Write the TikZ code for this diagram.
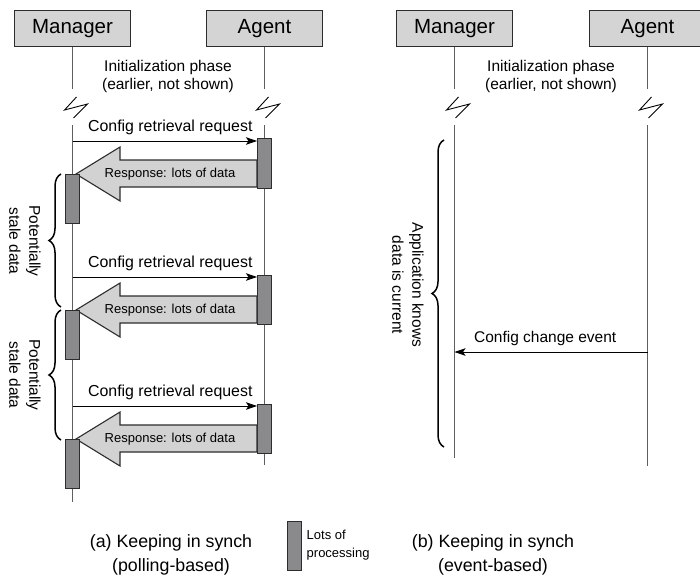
\documentclass[tikz,border=0pt]{standalone}
\usepackage{fontspec}
\setmainfont{Liberation Sans}
\usepackage{tikz}
\usetikzlibrary{arrows.meta,positioning,decorations.pathreplacing}
\definecolor{hdrgray}{RGB}{212,212,212}
\definecolor{respgray}{RGB}{210,210,210}
\definecolor{procgray}{RGB}{138,138,140}
\definecolor{lifegray}{RGB}{95,95,95}
\definecolor{edgegray}{RGB}{45,45,45}

\begin{document}
\begin{tikzpicture}[x=1pt, y=-1pt,
    hdr/.style={draw=edgegray, fill=hdrgray, line width=1.1pt, minimum width=116pt,
      minimum height=36pt, inner sep=0pt, font=\fontsize{20.5}{22}\selectfont},
    proc/.style={draw=edgegray, fill=procgray, line width=1pt, minimum width=14pt,
      minimum height=49pt, inner sep=0pt},
    life/.style={lifegray, line width=1.1pt},
    msg/.style={-{Stealth[length=11pt,width=7.5pt,inset=2.5pt]}, line width=0.8pt},
    resp/.style={draw=edgegray, fill=respgray, line width=1.1pt},
    brc/.style={decorate, decoration={brace, amplitude=12pt}, line width=1.5pt},
    lbl/.style={align=center, font=\fontsize{15.5}{18}\selectfont},
    rot/.style={align=center, rotate=-90, font=\fontsize{15.5}{20}\selectfont},
    captxt/.style={align=center, font=\fontsize{17.8}{24}\selectfont}]
  \useasboundingbox (0,0) rectangle (700,580);

  % Headers and lifelines
  \node[hdr] (mgrA) at (72.5,28.5) {Manager};
  \node[hdr] (agtA) at (264.5,28.5) {Agent};
  \node[hdr] (mgrB) at (454.5,28.5) {Manager};
  \node[hdr] (agtB) at (647.5,28.5) {Agent};
  \foreach \h in {mgrA,agtA,mgrB,agtB}
    \draw[life] (\h.south) -- ++(0,42);
  \foreach \h/\e in {mgrA/502,agtA/465,mgrB/458,agtB/466} {
    \coordinate (\h top) at (\h.south |- 0,125);
    \coordinate (\h end) at (\h.south |- 0,\e);
    \draw[life] (\h top) -- (\h end);
  }
  \foreach \x in {72.5,264.5,454.5,647.5}
    \draw[line width=0.9pt] ({\x+4},97) -- ({\x-8},110) -- ({\x+15},104) -- ({\x+1},118);

  \node[lbl] (initA) at (168,76) {Initialization phase\\(earlier, not shown)};
  \node[lbl] (initB) at (551,76) {Initialization phase\\(earlier, not shown)};

  % Polling rounds
  \foreach \i/\r in {1/141,2/277,3/406} {
    \node[proc] (ag\i) at (264.5,{\r+22.5}) {};
    \coordinate (ml\i) at (72.5,\r);
    \draw[msg] (ml\i) -- node[pos=0.53, above=4pt, lbl, inner sep=2pt,
      font=\fontsize{15.9}{18}\selectfont] (rq\i) {Config retrieval request} (ml\i -| ag\i.west);
    \coordinate (rs\i) at (0,{\r+19});
    \coordinate (rb\i) at (0,{\r+46});
    \draw[resp] (ag\i.west |- rs\i) -- (120,{\r+19}) -- (120,{\r+6}) -- (76,{\r+33})
      -- (120,{\r+60}) -- (120,{\r+46}) -- (ag\i.west |- rb\i) -- cycle;
    \node[font=\fontsize{13}{14}\selectfont, inner sep=0pt] (rt\i) at (170,{\r+33})
      {Response: lots of data};
    \node[proc] (mb\i) at (72.5,{\r+57.5}) {};
  }
  \draw[brc] (61,307) -- (61,174);
  \draw[brc] (61,440) -- (61,310);
  \node[rot] (stale1) at (25,241) {Potentially\\stale data};
  \node[rot] (stale2) at (25,375) {Potentially\\stale data};

  % Event-based
  \draw[brc] (444,447) -- (444,140);
  \node[rot] (appB) at (408,285) {Application knows\\data is current};
  \coordinate (ev) at (agtB.south |- 0,352);
  \draw[msg] (ev) -- node[pos=0.53, above=4pt, lbl, inner sep=2pt] (evt)
    {Config change event} (ev -| mgrB.south);

  % Captions and key
  \node[captxt] (capA) at (171,555) {(a) Keeping in synch\\(polling-based)};
  \node[proc] (key) at (294,545.5) {};
  \node[right=5pt of key, align=left, inner sep=0pt, font=\fontsize{13}{18}\selectfont]
    (keytxt) {Lots of\\processing};
  \node[captxt] (capB) at (493,555) {(b) Keeping in synch\\(event-based)};
\end{tikzpicture}
\end{document}
